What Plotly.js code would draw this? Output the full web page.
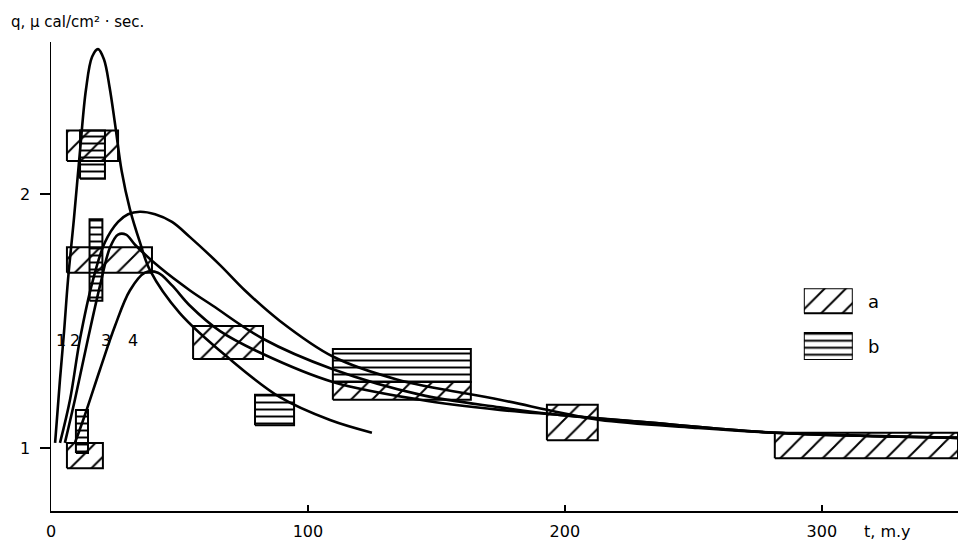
<!DOCTYPE html>
<html>
<head>
<meta charset="utf-8">
<script src="https://cdn.plot.ly/plotly-3.0.1.min.js"></script>
<style>html,body{margin:0;padding:0;background:#fff;}#chart{width:958px;height:543px;}</style>
</head>
<body>
<div id="chart"></div>
<script>
// ---- Curves (t in m.y., q in μcal/cm²·sec) ----
const curve1_t = [1.6, 3.5, 5.1, 6.6, 8.9, 11.3, 13.6, 16.0, 18.3, 20.6, 22.8, 25.0, 27.5, 30.7, 34.6, 38.5, 50.2, 69.6, 89.1, 108.6, 124.9];
const curve1_q = [1.02, 1.27, 1.46, 1.66, 1.90, 2.17, 2.41, 2.54, 2.57, 2.53, 2.42, 2.27, 2.09, 1.94, 1.81, 1.70, 1.53, 1.35, 1.20, 1.11, 1.06];

const curve2_t = [3.5, 7.4, 11.3, 16.3, 21.0, 26.1, 30.0, 34.6, 40.5, 47.1, 54.1, 65.8, 75.5, 89.1, 109.7, 134.6, 174.7, 198, 213.6, 249.8, 281.7, 353];
const curve2_q = [1.02, 1.19, 1.43, 1.66, 1.81, 1.89, 1.92, 1.93, 1.92, 1.89, 1.83, 1.72, 1.62, 1.50, 1.36, 1.27, 1.19, 1.14, 1.11, 1.08, 1.06, 1.04];

const curve3_t = [5.4, 9.3, 14.4, 19.1, 23.0, 26.1, 29.2, 32.7, 42.4, 54.1, 63.0, 82.5, 109.7, 143.6, 174.7, 198, 233, 281.7, 353];
const curve3_q = [1.02, 1.19, 1.43, 1.64, 1.79, 1.84, 1.84, 1.80, 1.71, 1.62, 1.56, 1.43, 1.31, 1.21, 1.16, 1.13, 1.10, 1.06, 1.04];

const curve4_t = [9.3, 13.2, 19.1, 24.9, 30.7, 36.6, 41.6, 47.1, 54.1, 65.8, 82.5, 109.7, 143.6, 174.7, 198, 233, 281.7, 353];
const curve4_q = [1.02, 1.13, 1.31, 1.48, 1.62, 1.69, 1.69, 1.64, 1.56, 1.46, 1.37, 1.26, 1.19, 1.15, 1.13, 1.10, 1.06, 1.04];

const curveNames = ["1", "2", "3", "4"];
const curveLabel_t = [1.0, 6.5, 18.5, 29.0];
const curveLabel_q = [1.425, 1.425, 1.425, 1.425];

// ---- Data boxes, type a (diagonal hatching) ----
const boxA_t0 = [6.2, 6.2, 6.2, 55.3, 109.7, 193.0, 281.7];
const boxA_t1 = [26.1, 39.3, 20.2, 82.5, 163.4, 212.8, 353];
const boxA_q0 = [2.13, 1.69, 0.92, 1.35, 1.19, 1.03, 0.96];
const boxA_q1 = [2.25, 1.79, 1.02, 1.48, 1.26, 1.17, 1.06];

// ---- Data boxes, type b (horizontal hatching) ----
const boxB_t0 = [11.3, 15.0, 9.7, 79.4, 109.7];
const boxB_t1 = [21.0, 20.0, 14.4, 94.6, 163.4];
const boxB_q0 = [2.06, 1.58, 0.98, 1.09, 1.26];
const boxB_q1 = [2.25, 1.90, 1.15, 1.21, 1.39];

// ---- Axis ticks ----
const xTicks = [0, 100, 200, 300];
const xTickText = ["0", "100", "200", "300"];
const yTicks = [1, 2];
const yTickText = ["1", "2"];

const legendNames = ["a", "b"];

const patA = {shape: "/", fgcolor: "#000", bgcolor: "rgba(0,0,0,0)", size: 15, solidity: 0.13};
const patB = {shape: "-", fgcolor: "#000", bgcolor: "rgba(0,0,0,0)", size: 7, solidity: 0.28};

function rect(t0, t1, q0, q1, pat, xa, ya) {
  return {
    type: "scatter", mode: "lines",
    x: [t0, t1, t1, t0, t0], y: [q0, q0, q1, q1, q0],
    fill: "toself", fillcolor: "rgba(0,0,0,0)", fillpattern: pat,
    line: {color: "#000", width: 2},
    xaxis: xa || "x", yaxis: ya || "y",
    hoverinfo: "skip", showlegend: false
  };
}

const traces = [];
for (let i = 0; i < boxA_t0.length; i++) traces.push(rect(boxA_t0[i], boxA_t1[i], boxA_q0[i], boxA_q1[i], patA));
for (let i = 0; i < boxB_t0.length; i++) traces.push(rect(boxB_t0[i], boxB_t1[i], boxB_q0[i], boxB_q1[i], patB));

const curves = [[curve1_t, curve1_q], [curve2_t, curve2_q], [curve3_t, curve3_q], [curve4_t, curve4_q]];
curves.forEach((c, i) => {
  traces.push({
    type: "scatter", mode: "lines", name: curveNames[i],
    x: c[0], y: c[1],
    line: {color: "#000", width: 2.6, shape: "spline", smoothing: 1.0},
    showlegend: false, hoverinfo: "skip"
  });
});

// legend swatches on a helper axis pair
traces.push(rect(0, 1, 0.653, 1, patA, "x2", "y2"));
traces.push(rect(0, 1, 0, 0.375, patB, "x2", "y2"));

const font = {family: "DejaVu Sans, Arial, sans-serif", color: "#000"};

const annotations = [];
curveNames.forEach((n, i) => annotations.push({
  x: curveLabel_t[i], y: curveLabel_q[i], xref: "x", yref: "y", text: n,
  showarrow: false, font: Object.assign({size: 16}, font), xanchor: "left"
}));
annotations.push({x: 0.899, y: 0.446, xref: "paper", yref: "paper", text: legendNames[0], showarrow: false, xanchor: "left", font: Object.assign({size: 18}, font)});
annotations.push({x: 0.899, y: 0.350, xref: "paper", yref: "paper", text: legendNames[1], showarrow: false, xanchor: "left", font: Object.assign({size: 18}, font)});
annotations.push({x: 0.894, y: -0.043, xref: "paper", yref: "paper", text: "t, m.y", showarrow: false, xanchor: "left", yanchor: "middle", font: Object.assign({size: 16}, font)});
annotations.push({x: -0.046, y: 1.042, xref: "paper", yref: "paper", text: "q, μ cal/cm² · sec.", showarrow: false, xanchor: "left", yanchor: "middle", font: Object.assign({size: 15}, font)});

const layout = {
  width: 958, height: 543,
  margin: {l: 51, r: 0, t: 42, b: 32},
  paper_bgcolor: "#fff", plot_bgcolor: "#fff",
  font: Object.assign({size: 15}, font),
  showlegend: false,
  xaxis: {
    range: [0, 353], tickvals: xTicks, ticktext: xTickText,
    ticks: "inside", ticklen: 6, tickwidth: 1.5, tickcolor: "#000",
    showline: true, linecolor: "#000", linewidth: 1.5,
    showgrid: false, zeroline: false, ticklabelstandoff: 5,
    tickfont: Object.assign({size: 16}, font)
  },
  yaxis: {
    range: [0.752, 2.598], tickvals: yTicks, ticktext: yTickText,
    ticks: "outside", ticklen: 10, tickwidth: 1.5, tickcolor: "#000",
    showline: true, linecolor: "#000", linewidth: 1.5,
    showgrid: false, zeroline: false, ticklabelstandoff: 6,
    tickfont: Object.assign({size: 16}, font)
  },
  xaxis2: {domain: [0.830, 0.884], range: [0, 1], anchor: "y2", visible: false, fixedrange: true},
  yaxis2: {domain: [0.322, 0.475], range: [0, 1], anchor: "x2", visible: false, fixedrange: true},
  annotations: annotations
};

Plotly.newPlot("chart", traces, layout, {staticPlot: true, displayModeBar: false});
</script>
</body>
</html>
